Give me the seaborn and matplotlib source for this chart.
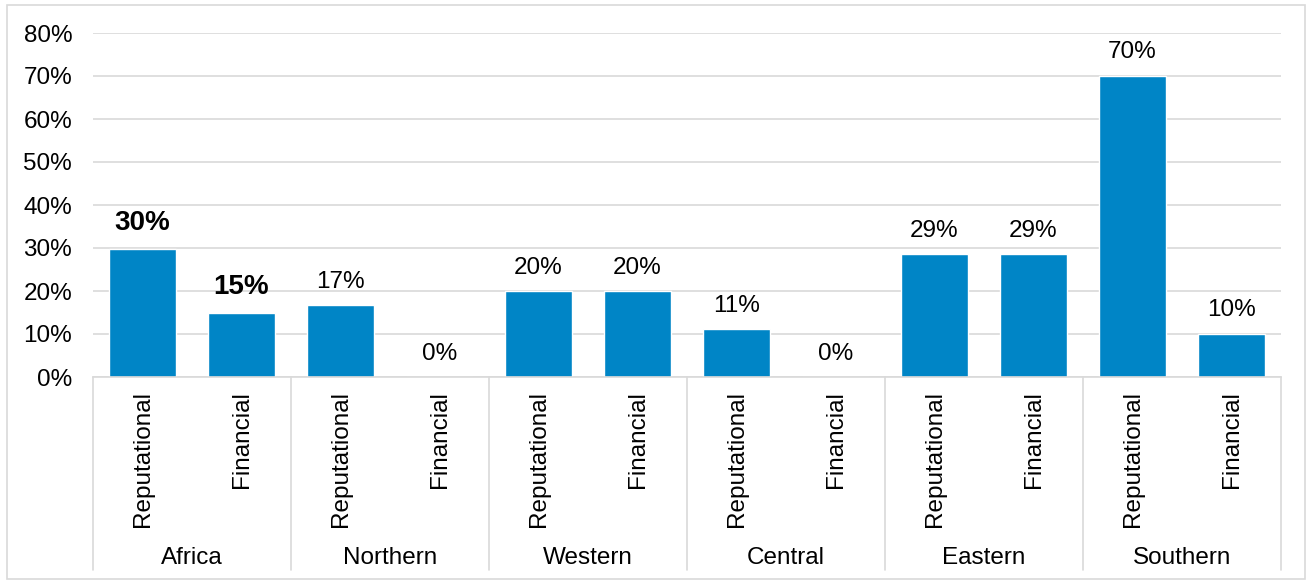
import matplotlib
matplotlib.use("Agg")
import matplotlib.pyplot as plt
import matplotlib.transforms as mtransforms
from matplotlib.ticker import PercentFormatter
from matplotlib.patches import Rectangle
import seaborn as sns
import pandas as pd

regions = ["Africa", "Northern", "Western", "Central", "Eastern", "Southern"]
risk_types = ["Reputational", "Financial"]
reputational = [0.298, 0.167, 0.200, 0.111, 0.286, 0.700]
financial = [0.149, 0.000, 0.200, 0.000, 0.286, 0.100]
bold_regions = ["Africa"]
y_ticks = [0.0, 0.1, 0.2, 0.3, 0.4, 0.5, 0.6, 0.7, 0.8]

rows = []
for r, rv, fv in zip(regions, reputational, financial):
    rows.append({"region": r, "type": "Reputational", "key": f"{r}|Reputational", "value": rv})
    rows.append({"region": r, "type": "Financial", "key": f"{r}|Financial", "value": fv})
df = pd.DataFrame(rows)
order = list(df["key"])

sns.set_theme(style="white")
plt.rcParams["font.family"] = ["Liberation Sans", "DejaVu Sans"]

W, H = 1309, 581
fig = plt.figure(figsize=(W / 100, H / 100), dpi=100)
ax = fig.add_axes([93 / W, 1 - 377 / H, (1281 - 93) / W, (377 - 33) / H])

BLUE = "#0085C6"
GRID = "#D9D9D9"
FS = 17.5

sns.barplot(data=df, x="key", y="value", order=order, color=BLUE,
            width=0.667, saturation=1, ax=ax, errorbar=None)

ax.set_ylim(0, 0.8)
ax.set_xlim(-0.5, len(order) - 0.5)
ax.set_yticks(y_ticks)
ax.yaxis.set_major_formatter(PercentFormatter(1.0, decimals=0))
ax.grid(axis="y", color=GRID, linewidth=1.2)
ax.set_axisbelow(True)
for s in ["left", "right", "top"]:
    ax.spines[s].set_visible(False)
ax.spines["bottom"].set_color(GRID)
ax.spines["bottom"].set_linewidth(1.2)
ax.set_xlabel("")
ax.set_ylabel("")
ax.tick_params(axis="y", length=0, pad=15, labelsize=FS, labelcolor="black")
ax.tick_params(axis="x", length=0, pad=10, labelsize=FS, labelcolor="black")
ax.set_xticks(range(len(order)))
ax.set_xticklabels(list(df["type"]), rotation=90, va="top", ha="center")

# data labels
for i, row in df.iterrows():
    is_bold = row["region"] in bold_regions
    ax.annotate(f"{round(row['value'] * 100):.0f}%", (i, row["value"]),
                xytext=(0, 9), textcoords="offset points",
                ha="center", va="bottom",
                fontsize=20 if is_bold else FS,
                fontweight="bold" if is_bold else "normal", color="black")

# group separators and region labels
trans = mtransforms.blended_transform_factory(ax.transData, ax.transAxes)
for k in range(len(regions) + 1):
    x = -0.5 + 2 * k
    ax.plot([x, x], [0, -0.561], transform=trans, color=GRID, linewidth=1.2,
            clip_on=False)
for k, r in enumerate(regions):
    ax.text(2 * k + 0.5, -0.525, r, transform=trans, ha="center", va="center",
            fontsize=FS, color="black")

# outer border
fig.patches.append(Rectangle((7 / W, 1 - 579 / H), (1305 - 7) / W, (579 - 5) / H,
                             transform=fig.transFigure, fill=False,
                             edgecolor=GRID, linewidth=1.2))

fig.savefig("out.png", dpi=100)
